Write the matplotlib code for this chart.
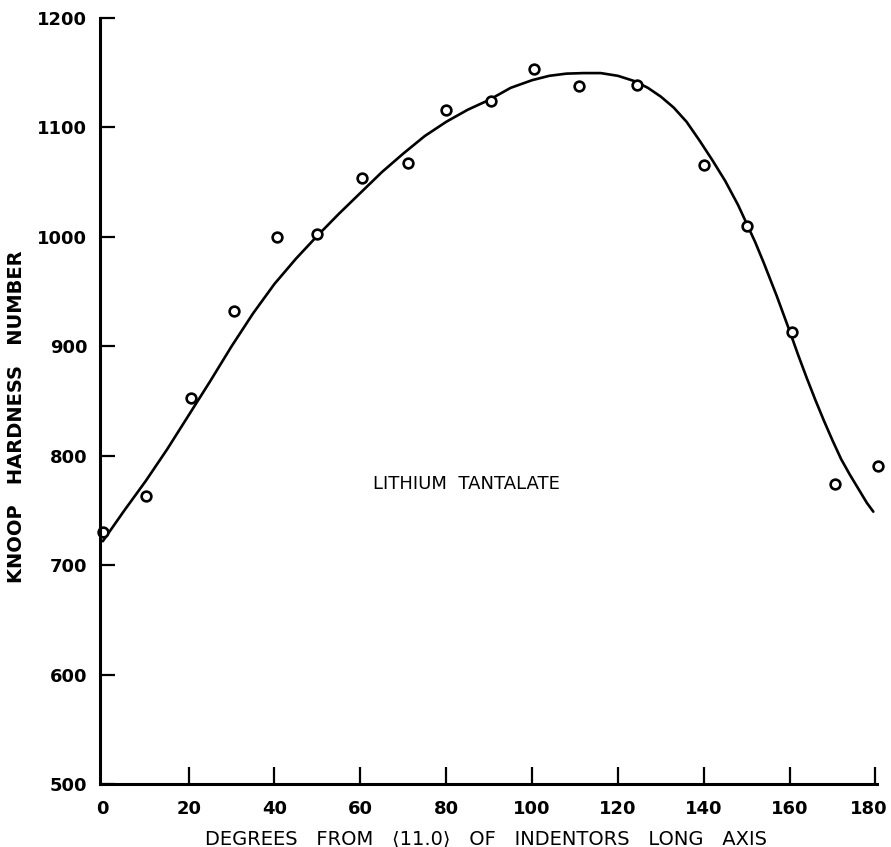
import numpy as np
import matplotlib.pyplot as plt
import matplotlib.transforms as mtransforms

# measured points (degrees, knoop hardness)
deg = [0, 10, 20.5, 30.5, 40.5, 50, 60.5, 71, 80, 90.5, 100.5, 111, 124.5, 140, 150, 160.5, 170.5, 180.5]
khn = [730, 763, 853, 932, 1000, 1003, 1054, 1067, 1116, 1124, 1153, 1138, 1139, 1066, 1010, 913, 774, 791]

# hand drawn curve
curve_x = [0, 5, 10, 15, 20, 25, 30, 35, 40, 45, 50, 55, 60, 65, 70, 75, 80, 85, 90, 95,
           100, 104, 108, 112, 116, 120, 124, 127, 130, 133, 136, 139, 142, 145, 148, 150,
           152, 154, 157, 160, 162, 164, 166, 168, 170, 172, 174, 176, 178, 179.5]
curve_y = [722, 750, 777, 806, 837, 868, 900, 930, 957, 980, 1001, 1021, 1040, 1059, 1076, 1092,
           1105, 1116, 1125, 1136, 1143, 1147, 1149, 1149.5, 1149.5, 1147, 1142, 1136, 1128, 1118,
           1105, 1088, 1070, 1051, 1029, 1012, 995, 976, 946, 914, 892, 871, 851, 832, 814, 797,
           783, 770, 757, 749]

xticks = [0, 20, 40, 60, 80, 100, 120, 140, 160, 180]
yticks = [500, 600, 700, 800, 900, 1000, 1100, 1200]

plt.rcParams['font.family'] = ['DejaVu Sans', 'DejaVu Sans Mono']

fig = plt.figure(figsize=(8.91, 8.47), dpi=100)
ax = fig.add_axes([0.112, 0.074, 0.872, 0.905])

ax.plot(curve_x, curve_y, color='black', lw=1.9, solid_capstyle='round', solid_joinstyle='round')
ax.plot(deg, khn, 'o', mfc='white', mec='black', ms=7, mew=1.9, clip_on=False)

ax.text(84.7, 774, 'LITHIUM  TANTALATE', ha='center', va='center', fontsize=13)

ax.set_xlim(-0.7, 180.3)
ax.set_ylim(500, 1200)
ax.set_xticks(xticks)
ax.set_yticks(yticks)

for s in ['top', 'right']:
    ax.spines[s].set_visible(False)
for s in ['left', 'bottom']:
    ax.spines[s].set_linewidth(2.2)

ax.tick_params(axis='x', direction='in', length=12, width=1.6, pad=11, labelsize=13)
ax.tick_params(axis='y', direction='in', length=11, width=1.6, pad=9, labelsize=13)
for lab in ax.get_xticklabels() + ax.get_yticklabels():
    lab.set_fontweight('bold')
# 0 tick sits on the y axis, no separate mark
ax.xaxis.get_major_ticks()[0].tick1line.set_visible(False)
# keep the 180 label inside the figure
last = ax.get_xticklabels()[-1]
last.set_transform(last.get_transform() + mtransforms.ScaledTranslation(-5 / 72, 0, fig.dpi_scale_trans))

ax.set_xlabel('DEGREES   FROM   \u27e811.0\u27e9   OF   INDENTORS   LONG   AXIS', fontsize=14)
ax.xaxis.set_label_coords(0.497, -0.0705)
ax.xaxis.label.set_va('center')
ax.set_ylabel('KNOOP   HARDNESS   NUMBER', fontsize=14, fontweight='bold')
ax.yaxis.set_label_coords(-0.107, 0.48)
ax.yaxis.label.set_va('center')

fig.savefig('out.png', dpi=100)
